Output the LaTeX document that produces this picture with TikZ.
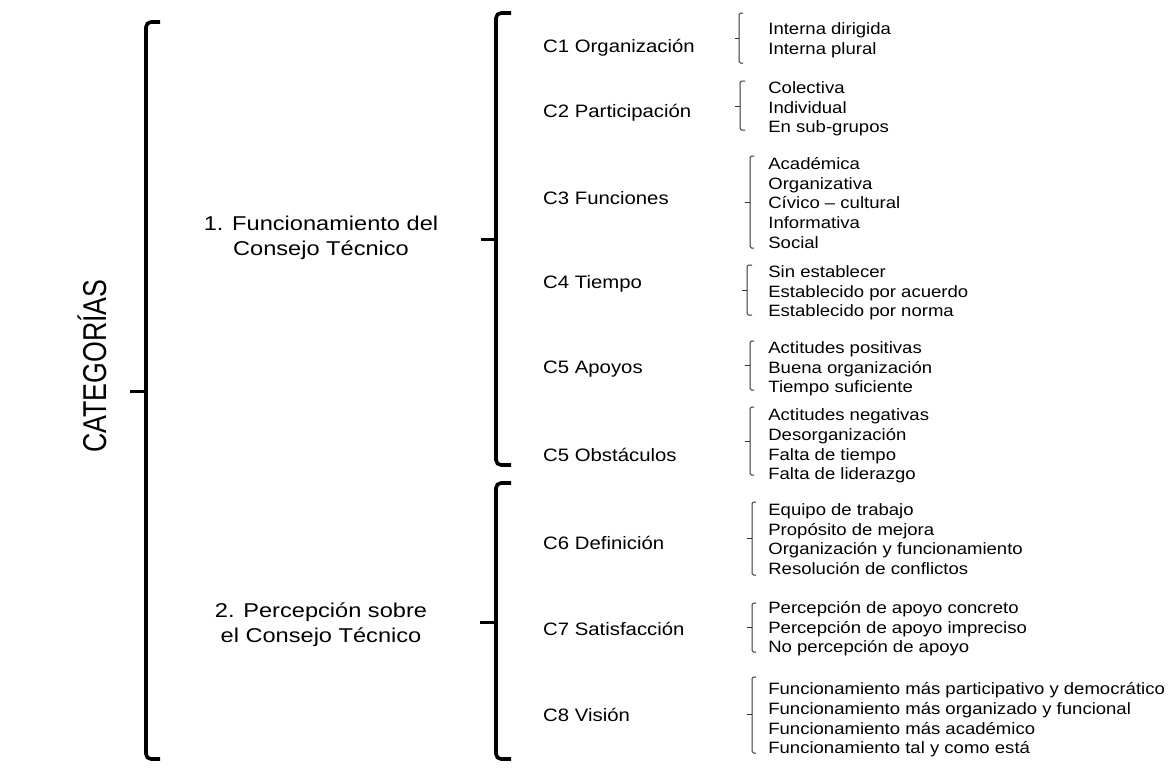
\documentclass[tikz,border=0pt]{standalone}
\usepackage{fontspec}
\setmainfont{Liberation Sans}
\usepackage{tikz}

\begin{document}
\begin{tikzpicture}[
	x=1pt,
	y=-1pt,
	bigbrace/.style={line width=3.6pt, rounded corners=5pt},
	bigtick/.style={line width=3pt},
	smallbrace/.style={line width=1pt, black!80, rounded corners=1.5pt},
	root/.style={rotate=90, xscale=0.81, font=\fontsize{33}{33}\selectfont},
	cat/.style={align=center, xscale=1.18, font=\fontsize{20}{25}\selectfont},
	crit/.style={anchor=west, inner sep=0pt, xscale=1.13, font=\fontsize{18}{22}\selectfont},
	opts/.style={anchor=west, align=left, inner sep=1pt, xscale=1.13, font=\fontsize{16.4}{19.6}\selectfont}
  ]

  \path[use as bounding box, fill=white] (0,0) rectangle (1174,769);

  \node[root] (cat) at (92,366) {CATEGORÍAS};

  \node[cat] (f1) at (321,238) {1. Funcionamiento del\\Consejo Técnico};
  \node[cat] (f2) at (321,625) {2. Percepción sobre\\el Consejo Técnico};

  \node[crit] (c1) at (543,48) 	{C1 Organización};
  \node[crit] (c2) at (543,113) 	{C2 Participación};
  \node[crit] (c3) at (543,198) 	{C3 Funciones};
  \node[crit] (c4) at (543,284) 	{C4 Tiempo};
  \node[crit] (c5a) at (543,369) 	{C5 Apoyos};
  \node[crit] (c5o) at (543,455) 	{C5 Obstáculos};
  \node[crit] (c6) at (543,543) 	{C6 Definición};
  \node[crit] (c7) at (543,629) 	{C7 Satisfacción};
  \node[crit] (c8) at (543,715) 	{C8 Visión};

  \node[opts] (o1) at (767,40) 	{Interna dirigida\\Interna plural};
  \node[opts] (o2) at (767,109) 	{Colectiva\\Individual\\En sub-grupos};
  \node[opts] (o3) at (767,203) 	{Académica\\Organizativa\\Cívico – cultural\\Informativa\\Social};
  \node[opts] (o4) at (767,293) 	{Sin establecer\\Establecido por acuerdo\\Establecido por norma};
  \node[opts] (o5a) at (767,369) 	{Actitudes positivas\\Buena organización\\Tiempo suficiente};
  \node[opts] (o5o) at (767,446) 	{Actitudes negativas\\Desorganización\\Falta de tiempo\\Falta de liderazgo};
  \node[opts] (o6) at (767,539) 	{Equipo de trabajo\\Propósito de mejora\\Organización y funcionamiento\\Resolución de conflictos};
  \node[opts] (o7) at (767,629) 	{Percepción de apoyo concreto\\Percepción de apoyo impreciso\\No percepción de apoyo};
  \node[opts] (o8) at (767,720) 	{Funcionamiento más participativo y democrático\\Funcionamiento más organizado y funcional\\Funcionamiento más académico\\Funcionamiento tal y como está};

  \draw[bigbrace] (160,22) -- (146,22) -- (146,759) -- (160,759);
  \draw[bigtick] (146,391) -- (130,391);
  \draw[bigbrace] (511,13) -- (496,13) -- (496,465) -- (511,465);
  \draw[bigtick] (496,239) -- (481,239);
  \draw[bigbrace] (511,483) -- (496,483) -- (496,759) -- (511,759);
  \draw[bigtick] (496,622) -- (480,622);

  \draw[smallbrace] (743,13) -- (739,13) -- (739,63) -- (743,63);
  \draw[smallbrace] (739,38) -- (735,38);
  \draw[smallbrace] (745,81) -- (740,81) -- (740,130) -- (745,130);
  \draw[smallbrace] (740,106) -- (735,106);
  \draw[smallbrace] (754,156) -- (750,156) -- (750,248) -- (754,248);
  \draw[smallbrace] (750,202) -- (745,202);
  \draw[smallbrace] (752,265) -- (747,265) -- (747,315) -- (752,315);
  \draw[smallbrace] (747,290) -- (742,290);
  \draw[smallbrace] (754,341) -- (750,341) -- (750,390) -- (754,390);
  \draw[smallbrace] (750,365) -- (745,365);
  \draw[smallbrace] (754,407) -- (750,407) -- (750,475) -- (754,475);
  \draw[smallbrace] (750,441) -- (745,441);
  \draw[smallbrace] (756,502) -- (752,502) -- (752,575) -- (756,575);
  \draw[smallbrace] (752,538) -- (747,538);
  \draw[smallbrace] (756,603) -- (752,603) -- (752,652) -- (756,652);
  \draw[smallbrace] (752,627) -- (747,627);
  \draw[smallbrace] (756,677) -- (752,677) -- (752,753) -- (756,753);
  \draw[smallbrace] (752,714) -- (747,714);

\end{tikzpicture}
\end{document}
